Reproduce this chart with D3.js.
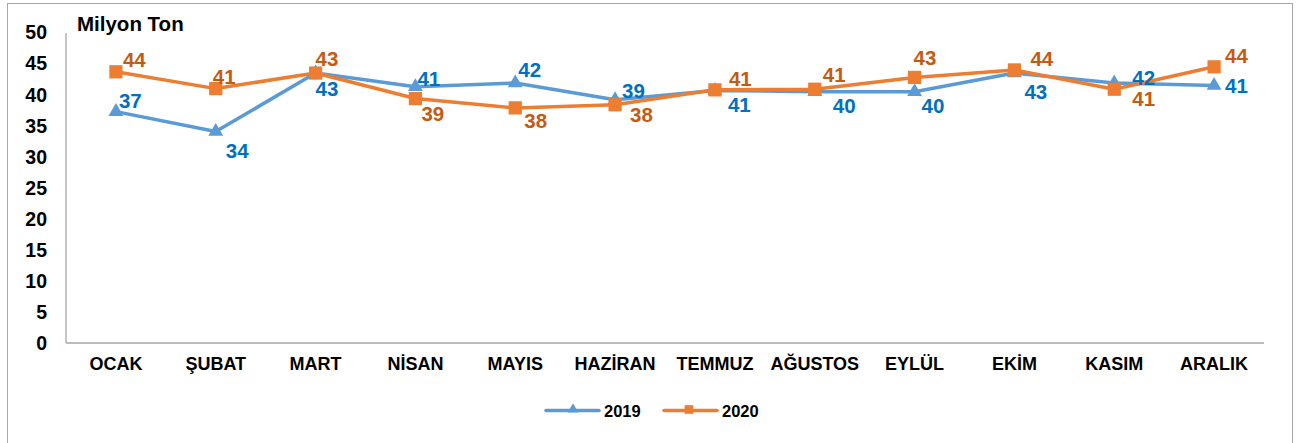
<!DOCTYPE html>
<html>
<head>
<meta charset="utf-8">
<script src="https://d3js.org/d3.v7.min.js"></script>
<style>
  body { margin: 0; background: #fff; }
  svg text { font-family: "Liberation Sans", Arial, sans-serif; font-weight: bold; }
</style>
</head>
<body>
<svg id="chart" width="1303" height="443"></svg>
<script>
// Months
var months = ["OCAK", "ŞUBAT", "MART", "NİSAN", "MAYIS", "HAZİRAN", "TEMMUZ", "AĞUSTOS", "EYLÜL", "EKİM", "KASIM", "ARALIK"];

// Series values (million tons)
var values2019 = [37.2, 34.0, 43.4, 41.2, 41.8, 39.1, 40.6, 40.4, 40.4, 43.4, 41.8, 41.4];
var values2020 = [43.6, 40.9, 43.4, 39.3, 37.8, 38.3, 40.7, 40.8, 42.7, 43.9, 40.8, 44.4];

var yTicks = [0, 5, 10, 15, 20, 25, 30, 35, 40, 45, 50];

// Label nudges from the point (px), labels were hand placed in the original
var labelNudge2019 = [[3, -4], [10, 26], [0, 23], [2, -1], [3, -6], [7, -2], [13, 22], [18, 21], [7, 21], [10, 26], [18, 2], [11, 8]];
var labelNudge2020 = [[7, -5], [-3, -5], [0, -7], [6, 22], [9, 20], [15, 17], [14, -4], [8, -7], [-1, -12], [16, -4], [18, 17], [11, -4]];

// Colours
var blueLine = '#5B9BD5';
var blueText = '#0070C0';
var orangeLine = '#ED7D31';
var orangeText = '#C55A11';
var axisColour = '#a6a6a6';

var svg = d3.select("#chart");

// outer frame
svg.append("rect")
  .attr("x", 7.5).attr("y", 3.5)
  .attr("width", 1285).attr("height", 440)
  .attr("fill", "none")
  .attr("stroke", axisColour)
  .attr("stroke-width", 1);

var plotLeft = 66, plotRight = 1264, plotTop = 32, plotBottom = 343;

var x = d3.scaleBand().domain(months).range([plotLeft, plotRight]);
var y = d3.scaleLinear().domain([0, 50]).range([plotBottom, plotTop]);

// y axis
var yAxis = d3.axisLeft(y).tickValues(yTicks).tickSize(0).tickPadding(19);
var gy = svg.append("g").attr("transform", "translate(" + plotLeft + ",0)").call(yAxis);
gy.select(".domain").attr("stroke", axisColour).attr("stroke-width", 1.3).attr("d", "M0," + (plotTop + 1) + "V" + plotBottom);
gy.selectAll("text").attr("font-size", 19.5).attr("fill", "#000").attr("dy", "0.35em");

// x axis
var xAxis = d3.axisBottom(x).tickSize(0).tickPadding(14);
var gx = svg.append("g").attr("transform", "translate(0," + plotBottom + ")").call(xAxis);
gx.select(".domain").attr("stroke", axisColour).attr("stroke-width", 1.3).attr("d", "M" + plotLeft + ",0H" + plotRight);
gx.selectAll("text").attr("font-size", 18).attr("fill", "#000").attr("dy", "0.71em");

// title
svg.append("text")
  .attr("x", 77).attr("y", 31)
  .attr("font-size", 20.5)
  .attr("fill", "#000")
  .text("Milyon Ton");

var cx = function (d, i) { return x(months[i]) + x.bandwidth() / 2; };

var line = d3.line()
  .x(function (d, i) { return cx(d, i); })
  .y(function (d) { return y(d); });

var triangle = d3.symbol().type(d3.symbolTriangle).size(95);
var square = d3.symbol().type(d3.symbolSquare).size(175);

function drawSeries(vals, lineCol, sym, yOff) {
  svg.append("path")
    .datum(vals)
    .attr("d", line)
    .attr("fill", "none")
    .attr("stroke", lineCol)
    .attr("stroke-width", 3.5)
    .attr("stroke-linejoin", "round");

  svg.selectAll(null)
    .data(vals)
    .enter().append("path")
    .attr("d", sym)
    .attr("transform", function (d, i) { return "translate(" + cx(d, i) + "," + (y(d) + yOff) + ")"; })
    .attr("fill", lineCol);
}

drawSeries(values2019, blueLine, triangle, 0);
drawSeries(values2020, orangeLine, square, 0);

function drawLabels(vals, nudge, col) {
  svg.selectAll(null)
    .data(vals)
    .enter().append("text")
    .attr("x", function (d, i) { return cx(d, i) + nudge[i][0]; })
    .attr("y", function (d, i) { return y(d) + nudge[i][1]; })
    .attr("font-size", 20.5)
    .attr("fill", col)
    .text(function (d) { return Math.round(d); });
}

drawLabels(values2019, labelNudge2019, blueText);
drawLabels(values2020, labelNudge2020, orangeText);

// legend
var legend = [
  { name: "2019", col: blueLine, x: 546 },
  { name: "2020", col: orangeLine, x: 664 }
];
var lg = svg.selectAll(".lg").data(legend).enter().append("g")
  .attr("transform", function (d) { return "translate(" + d.x + ",410.5)"; });
lg.append("line")
  .attr("x1", 0).attr("x2", 53).attr("y1", 0).attr("y2", 0)
  .attr("stroke", function (d) { return d.col; })
  .attr("stroke-width", 3.5)
  .attr("stroke-linecap", "round");
lg.append("path")
  .attr("d", function (d) { return d3.symbol().type(d.name === "2019" ? d3.symbolTriangle : d3.symbolSquare).size(d.name === "2019" ? 50 : 75)(); })
  .attr("transform", function (d) { return "translate(" + (d.name === "2019" ? 27 : 25) + ",-1)"; })
  .attr("fill", function (d) { return d.col; });
lg.append("text")
  .attr("x", 58).attr("y", 6)
  .attr("font-size", 16.5)
  .attr("fill", "#000")
  .text(function (d) { return d.name; });
</script>
</body>
</html>
